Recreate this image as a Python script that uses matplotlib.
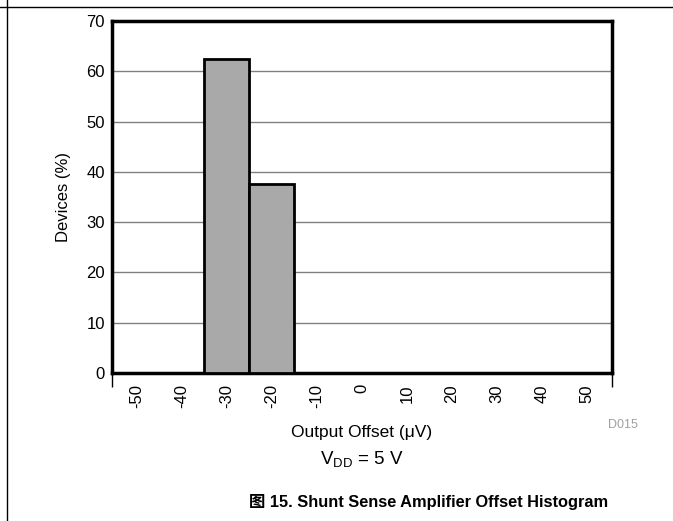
import matplotlib
matplotlib.use("Agg")
import matplotlib.pyplot as plt
from matplotlib.lines import Line2D

plt.rcParams['font.family'] = ['Liberation Sans', 'Noto Sans CJK SC', 'DejaVu Sans']

bin_centers = [-50, -40, -30, -20, -10, 0, 10, 20, 30, 40, 50]
devices_pct = [0, 0, 62.5, 37.5, 0, 0, 0, 0, 0, 0, 0]
x_ticks = [-50, -40, -30, -20, -10, 0, 10, 20, 30, 40, 50]
y_ticks = [0, 10, 20, 30, 40, 50, 60, 70]

fig = plt.figure(figsize=(6.73, 5.21), dpi=100)
ax = fig.add_axes([112/673, 1-373/521, 500/673, 352/521])

ax.bar(bin_centers, devices_pct, width=10, color='#a9a9a9', edgecolor='black',
       linewidth=2, zorder=3)

ax.set_xlim(-55.5, 55.5)
ax.set_ylim(0, 70)
ax.set_yticks(y_ticks)
ax.set_xticks(x_ticks)
ax.set_xticklabels([str(v) for v in x_ticks], rotation=90)
ax.set_xticks([-55.5, 55.5], minor=True)
ax.tick_params(axis='x', which='major', length=0, pad=8, labelsize=12)
ax.tick_params(axis='x', which='minor', length=10, width=1, direction='out')
ax.tick_params(axis='y', length=0, pad=5, labelsize=12)
ax.yaxis.grid(True, color='#808080', linewidth=1, zorder=0)
for s in ax.spines.values():
    s.set_linewidth(2.5)

ax.set_ylabel('Devices (%)', fontsize=12, labelpad=11)

fig.text(362/673, 1-433/521, 'Output Offset (\u03bcV)', fontsize=12.5, ha='center', va='center')
fig.text(623/673, 1-425/521, 'D015', color='#a0a0a0', fontsize=9, ha='center', va='center')
fig.text(362/673, 1-460/521, r'V$_{\mathregular{DD}}$ = 5 V', fontsize=13.5, ha='center', va='center')
fig.text(429/673, 1-502/521, '图 15. Shunt Sense Amplifier Offset Histogram',
         fontsize=11.8, fontweight='bold', ha='center', va='center')

fig.add_artist(Line2D([7/673, 7/673], [0, 1], transform=fig.transFigure, color='black', linewidth=1))
fig.add_artist(Line2D([0, 1], [1-7/521, 1-7/521], transform=fig.transFigure, color='black', linewidth=1))

fig.savefig('out.png', dpi=100)
